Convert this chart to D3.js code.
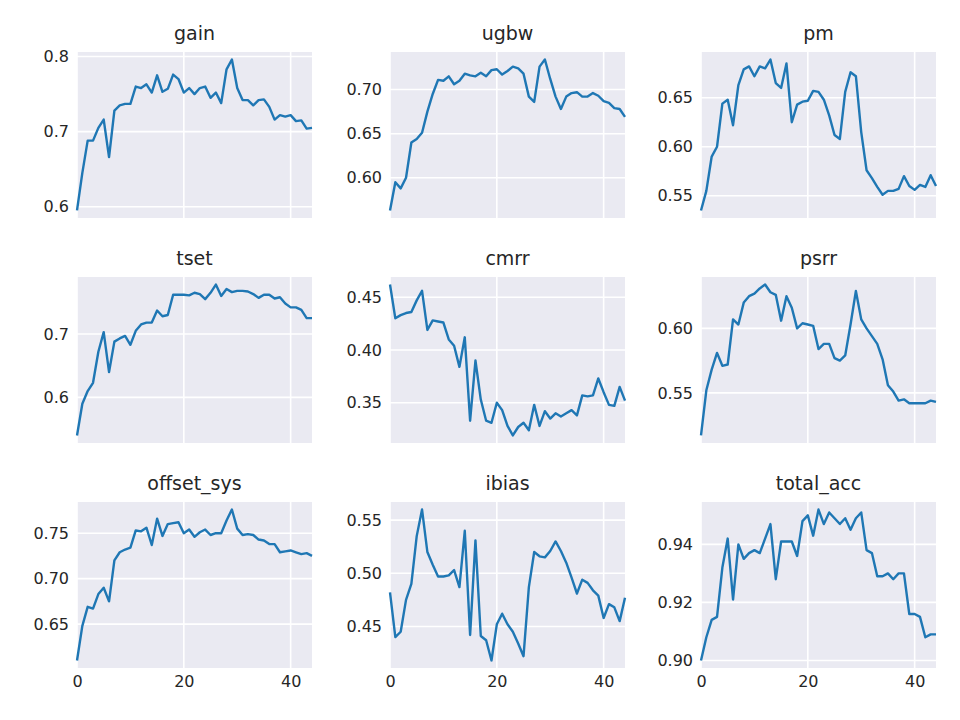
<!DOCTYPE html>
<html>
<head>
<meta charset="utf-8">
<script src="https://cdn.jsdelivr.net/npm/d3@7"></script>
<style>
  body { margin: 0; background: #fff; }
  text { font-family: "DejaVu Sans", sans-serif; fill: #262626; }
</style>
</head>
<body>
<svg id="chart" width="960" height="720"></svg>
<script>
const titles = ['gain', 'ugbw', 'pm', 'tset', 'cmrr', 'psrr', 'offset_sys', 'ibias', 'total_acc'];

const gain = [0.595,0.645,0.688,0.688,0.705,0.716,0.666,0.728,0.735,0.737,0.737,0.760,0.758,0.763,0.752,0.775,0.753,0.757,0.776,0.770,0.752,0.758,0.750,0.758,0.760,0.745,0.752,0.738,0.783,0.796,0.758,0.742,0.742,0.735,0.742,0.743,0.733,0.716,0.722,0.720,0.722,0.714,0.715,0.704,0.705];
const ugbw = [0.563,0.595,0.588,0.600,0.640,0.644,0.651,0.675,0.695,0.711,0.710,0.715,0.706,0.710,0.718,0.716,0.715,0.719,0.715,0.722,0.723,0.717,0.721,0.726,0.724,0.718,0.692,0.686,0.726,0.734,0.712,0.692,0.678,0.692,0.696,0.697,0.692,0.692,0.696,0.693,0.687,0.685,0.679,0.678,0.669];
const pm = [0.535,0.555,0.590,0.600,0.644,0.648,0.622,0.663,0.679,0.682,0.672,0.682,0.680,0.689,0.665,0.660,0.685,0.625,0.643,0.646,0.647,0.657,0.656,0.648,0.632,0.612,0.608,0.656,0.676,0.672,0.615,0.576,0.568,0.559,0.551,0.555,0.555,0.557,0.570,0.560,0.556,0.561,0.559,0.571,0.560];
const tset = [0.540,0.590,0.610,0.623,0.672,0.703,0.640,0.688,0.693,0.697,0.683,0.705,0.715,0.718,0.718,0.737,0.728,0.730,0.762,0.762,0.762,0.761,0.765,0.763,0.755,0.765,0.778,0.760,0.771,0.766,0.768,0.768,0.767,0.763,0.757,0.762,0.762,0.756,0.758,0.748,0.742,0.742,0.738,0.725,0.725];
const cmrr = [0.462,0.430,0.433,0.435,0.436,0.447,0.456,0.419,0.428,0.427,0.426,0.410,0.404,0.384,0.412,0.333,0.390,0.353,0.333,0.331,0.350,0.343,0.328,0.319,0.327,0.331,0.324,0.348,0.328,0.342,0.335,0.340,0.337,0.340,0.343,0.338,0.357,0.356,0.357,0.373,0.360,0.348,0.347,0.365,0.352];
const psrr = [0.517,0.552,0.568,0.581,0.571,0.572,0.607,0.603,0.620,0.625,0.627,0.631,0.634,0.628,0.626,0.606,0.625,0.616,0.600,0.604,0.603,0.602,0.584,0.588,0.588,0.577,0.575,0.579,0.603,0.629,0.607,0.600,0.594,0.588,0.576,0.556,0.551,0.544,0.545,0.542,0.542,0.542,0.542,0.544,0.543];
const offsetSys = [0.610,0.648,0.669,0.667,0.683,0.690,0.675,0.720,0.729,0.732,0.734,0.753,0.752,0.756,0.737,0.766,0.747,0.760,0.761,0.762,0.750,0.754,0.746,0.751,0.754,0.748,0.750,0.750,0.764,0.776,0.755,0.748,0.749,0.748,0.743,0.742,0.738,0.738,0.729,0.730,0.731,0.729,0.727,0.728,0.725];
const ibias = [0.482,0.440,0.445,0.475,0.490,0.535,0.560,0.520,0.508,0.497,0.497,0.498,0.503,0.487,0.540,0.442,0.531,0.441,0.437,0.418,0.452,0.462,0.452,0.445,0.434,0.422,0.487,0.520,0.516,0.515,0.521,0.530,0.521,0.510,0.496,0.481,0.494,0.491,0.484,0.479,0.458,0.471,0.468,0.455,0.477];
const totalAcc = [0.900,0.908,0.914,0.915,0.932,0.942,0.921,0.940,0.935,0.937,0.938,0.937,0.942,0.947,0.928,0.941,0.941,0.941,0.936,0.948,0.950,0.943,0.952,0.947,0.951,0.949,0.947,0.949,0.945,0.949,0.951,0.938,0.937,0.929,0.929,0.930,0.928,0.930,0.930,0.916,0.916,0.915,0.908,0.909,0.909];

const series = [gain, ugbw, pm, tset, cmrr, psrr, offsetSys, ibias, totalAcc];

// y ticks per panel and their label format
const yTicks = [
  [0.6, 0.7, 0.8], [0.60, 0.65, 0.70], [0.55, 0.60, 0.65],
  [0.6, 0.7], [0.35, 0.40, 0.45], [0.55, 0.60],
  [0.65, 0.70, 0.75], [0.45, 0.50, 0.55], [0.90, 0.92, 0.94]
];
const yFormats = ['.1f', '.2f', '.2f', '.1f', '.2f', '.2f', '.2f', '.2f', '.2f'];
const xTicks = [0, 20, 40];

const colLeft = [77, 390, 701];
const rowTop = [52, 277, 502];
const panelW = 235;
const panelH = 166;

const svg = d3.select('#chart');

series.forEach((values, i) => {
  const col = i % 3;
  const row = Math.floor(i / 3);
  const g = svg.append('g').attr('transform', `translate(${colLeft[col]},${rowTop[row]})`);

  const x = d3.scaleLinear().domain([0, values.length - 1]).range([0, panelW]);
  const [lo, hi] = d3.extent(values);
  const pad = (hi - lo) * 0.05;
  const y = d3.scaleLinear().domain([lo - pad, hi + pad]).range([panelH, 0]);

  g.append('rect').attr('width', panelW).attr('height', panelH).attr('fill', '#eaeaf2');

  g.selectAll('.gx').data(xTicks).join('line')
    .attr('x1', d => x(d)).attr('x2', d => x(d))
    .attr('y1', 0).attr('y2', panelH)
    .attr('stroke', '#fff').attr('stroke-width', 1.6);

  g.selectAll('.gy').data(yTicks[i]).join('line')
    .attr('x1', 0).attr('x2', panelW)
    .attr('y1', d => y(d)).attr('y2', d => y(d))
    .attr('stroke', '#fff').attr('stroke-width', 1.6);

  const line = d3.line().x((d, j) => x(j)).y(d => y(d));
  g.append('path').datum(values)
    .attr('d', line)
    .attr('fill', 'none')
    .attr('stroke', '#1f77b4')
    .attr('stroke-width', 2.4)
    .attr('stroke-linejoin', 'round');

  const yAxis = d3.axisLeft(y).tickValues(yTicks[i]).tickFormat(d3.format(yFormats[i])).tickSize(0).tickPadding(8);
  g.append('g').call(yAxis).call(a => a.select('.domain').remove())
    .selectAll('text').style('font-size', '16px').attr('fill', '#262626');

  if (row === 2) {
    const xAxis = d3.axisBottom(x).tickValues(xTicks).tickFormat(d3.format('d')).tickSize(0).tickPadding(8);
    g.append('g').attr('transform', `translate(0,${panelH})`).call(xAxis)
      .call(a => a.select('.domain').remove())
      .selectAll('text').style('font-size', '16px').attr('fill', '#262626');
  }

  g.append('text')
    .attr('x', panelW / 2).attr('y', -12)
    .attr('text-anchor', 'middle')
    .style('font-size', '19px')
    .text(titles[i]);
});
</script>
</body>
</html>
